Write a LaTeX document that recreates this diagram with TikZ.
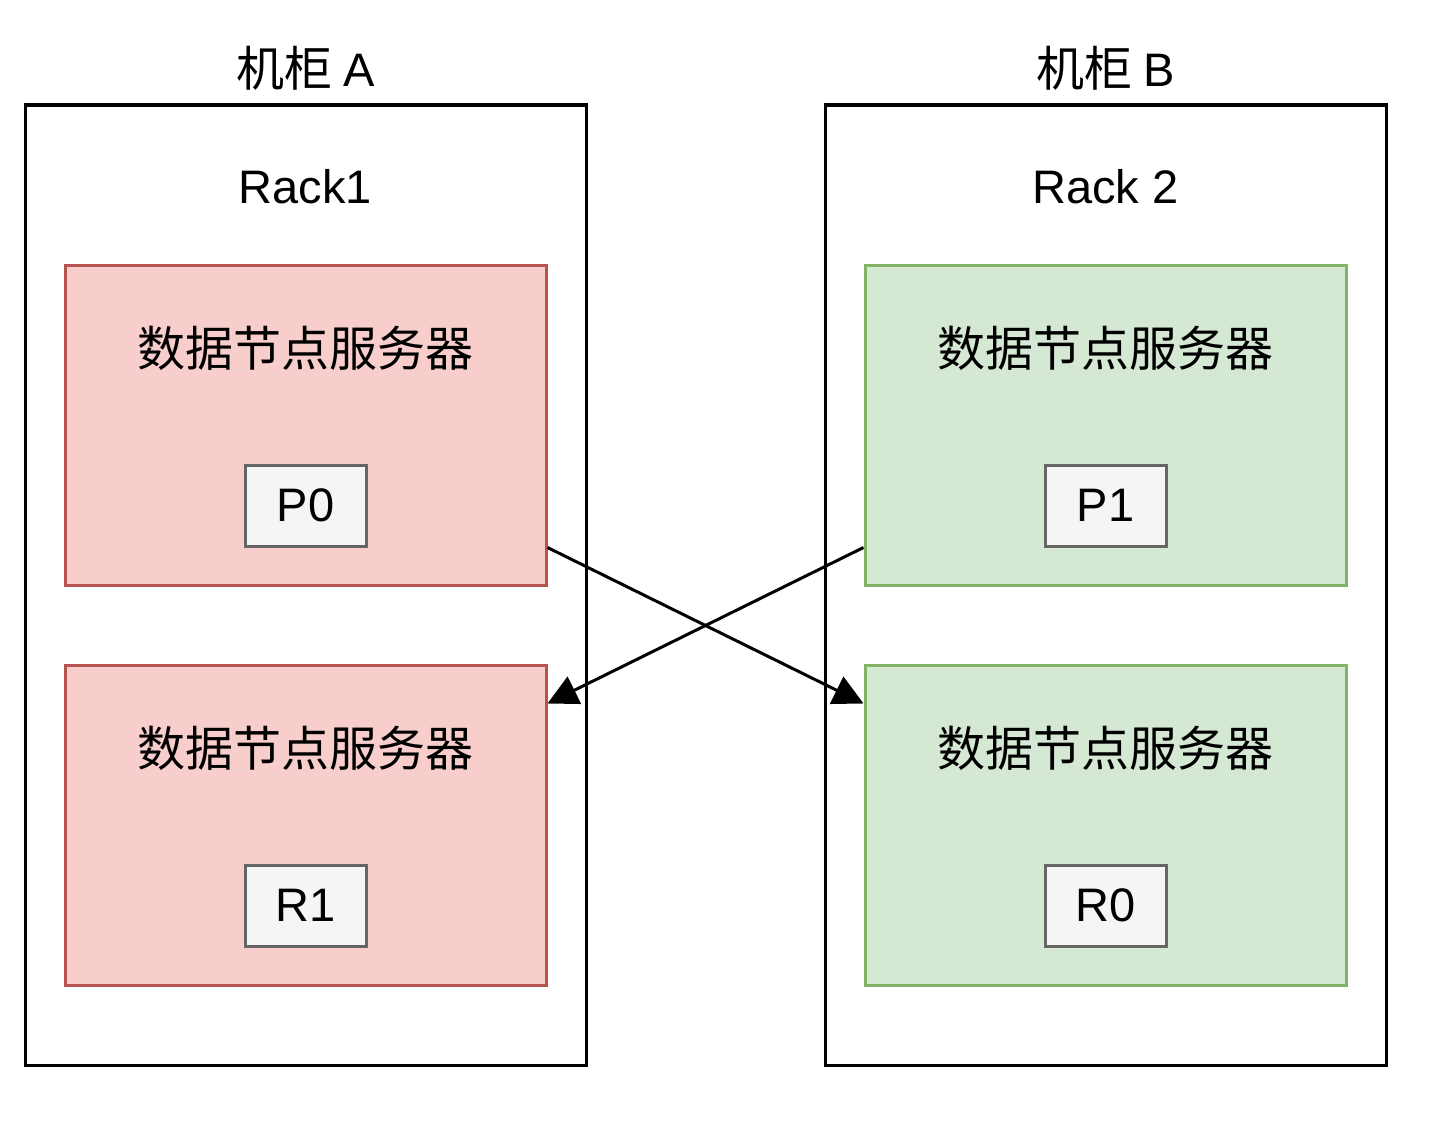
\documentclass[tikz,border=0pt]{standalone}
\usepackage{fontspec}
\setmainfont{Liberation Sans}
\newfontfamily\cjk{Noto Sans CJK SC}
\usetikzlibrary{arrows.meta}
\definecolor{redfill}{HTML}{F8CECC}
\definecolor{redline}{HTML}{B85450}
\definecolor{greenfill}{HTML}{D5E8D4}
\definecolor{greenline}{HTML}{82B366}
\definecolor{grayfill}{HTML}{F5F5F5}
\definecolor{grayline}{HTML}{666666}
\begin{document}
\begin{tikzpicture}[x=1pt,y=-1pt,
  rackbox/.style={draw=black,line width=3pt,fill=white,minimum width=561pt,minimum height=960pt,inner sep=0pt},
  redbox/.style={draw=redline,fill=redfill,line width=3pt,minimum width=481pt,minimum height=320pt,inner sep=0pt},
  greenbox/.style={draw=greenline,fill=greenfill,line width=3pt,minimum width=481pt,minimum height=320pt,inner sep=0pt},
  partbox/.style={draw=grayline,fill=grayfill,line width=3pt,minimum width=121pt,minimum height=81pt,inner sep=0pt,font=\fontsize{47}{54}\selectfont},
  lbl/.style={font=\fontsize{47}{54}\selectfont,inner sep=0pt},
  cjklbl/.style={font=\cjk\fontsize{48}{56}\selectfont,inner sep=0pt},
  link/.style={line width=3pt,-{Triangle[length=30pt,width=30pt]}}
]
\useasboundingbox (0,0) rectangle (1444,1124);
\fill[white] (0,0) rectangle (1444,1124);
% racks
\node[rackbox] (rackA) at (305.5,585) {};
\node[rackbox] (rackB) at (1105.5,585) {};
\node[cjklbl] (titleA) at (305.5,68) {机柜 {\rmfamily\fontsize{47}{54}\selectfont A}};
\node[cjklbl] (titleB) at (1105.5,68) {机柜 {\rmfamily\fontsize{47}{54}\selectfont B}};
\node[lbl] (rack1) at (305.5,187) {Rack1};
\node[lbl] (rack2) at (1105.5,187) {Rack 2};
% servers
\node[redbox] (srvA1) at (305.5,425) {};
\node[redbox] (srvA2) at (305.5,825) {};
\node[greenbox] (srvB1) at (1105.5,425) {};
\node[greenbox] (srvB2) at (1105.5,825) {};
\node[cjklbl] (tA1) at (305.5,348) {数据节点服务器};
\node[cjklbl] (tA2) at (305.5,748) {数据节点服务器};
\node[cjklbl] (tB1) at (1105.5,348) {数据节点服务器};
\node[cjklbl] (tB2) at (1105.5,748) {数据节点服务器};
% partitions
\node[partbox] (P0) at (305.5,505.5) {P0};
\node[partbox] (R1) at (305.5,905.5) {R1};
\node[partbox] (P1) at (1105.5,505.5) {P1};
\node[partbox] (R0) at (1105.5,905.5) {R0};
% links
\draw[link] ([yshift=39pt]srvA1.south east) -- ([yshift=-40pt]srvB2.north west);
\draw[link] ([yshift=39pt]srvB1.south west) -- ([yshift=-40pt]srvA2.north east);
\end{tikzpicture}
\end{document}
